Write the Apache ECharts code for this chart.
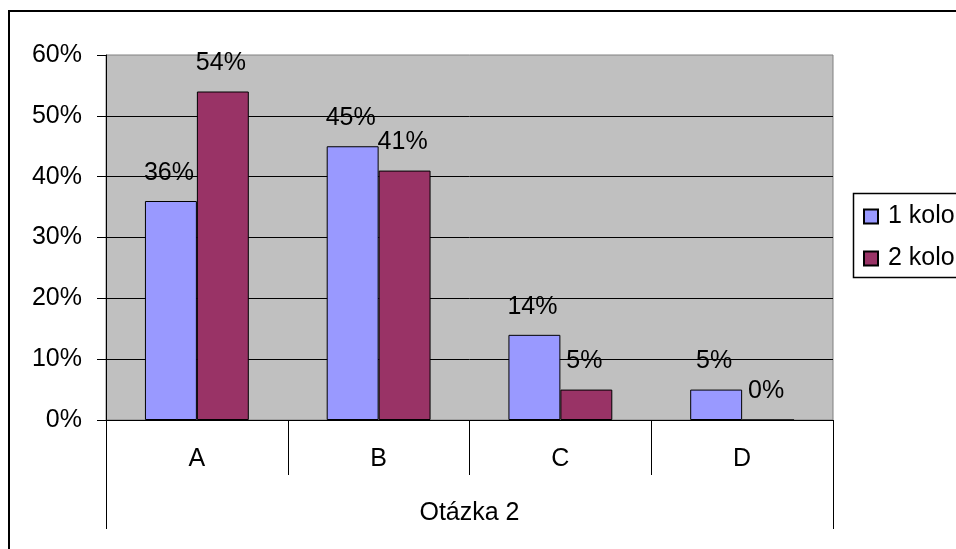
<!DOCTYPE html>
<html>
<head>
<meta charset="utf-8">
<script src="https://cdn.jsdelivr.net/npm/echarts@6/dist/echarts.min.js"></script>
<style>
  html, body { margin: 0; padding: 0; background: #fff; }
  #chart { width: 956px; height: 549px; }
</style>
</head>
<body>
<div id="chart"></div>
<script>
// Answers to question 2, by category, for both rounds (percent)
const categories = ['A', 'B', 'C', 'D'];
const groupLabel = ['Otázka 2'];
const round1 = [36, 45, 14, 5];
const round2 = [54, 41, 5, 0];
const seriesNames = ['1 kolo', '2 kolo'];
const yTicks = { min: 0, max: 60, step: 10 };

const FONT = '"Liberation Sans", Arial, sans-serif';
const FS = 25;

const chart = echarts.init(document.getElementById('chart'), null, { renderer: 'canvas' });

const barLabel = {
  show: true,
  position: 'top',
  distance: 16,
  offset: [-2, 0],
  formatter: '{c}%',
  color: '#000',
  fontFamily: FONT,
  fontSize: FS,
  lineHeight: 24
};

chart.setOption({
  animation: false,
  backgroundColor: '#fff',
  textStyle: { fontFamily: FONT, color: '#000' },
  grid: {
    left: 106, top: 55, right: 123, bottom: 129,
    show: true,
    backgroundColor: '#C0C0C0',
    borderColor: '#808080',
    borderWidth: 1
  },
  legend: {
    orient: 'vertical',
    left: 863,
    top: 204,
    padding: 0,
    itemGap: 17,
    itemWidth: 14,
    itemHeight: 14,
    icon: 'rect',
    data: seriesNames,
    textStyle: { fontFamily: FONT, fontSize: FS, lineHeight: 24, color: '#000', padding: [0, 0, 0, 5] }
  },
  xAxis: [
    {
      type: 'category',
      data: categories,
      position: 'bottom',
      boundaryGap: true,
      axisLine: { show: true, lineStyle: { color: '#000', width: 1 } },
      axisTick: { show: true, interval: 0, length: 55, lineStyle: { color: '#000', width: 1 } },
      axisLabel: { interval: 0, margin: 27, fontFamily: FONT, fontSize: FS, lineHeight: 24, color: '#000' },
      splitLine: { show: false }
    },
    {
      type: 'category',
      data: groupLabel,
      position: 'bottom',
      boundaryGap: true,
      axisLine: { show: false },
      axisTick: { show: true, interval: 0, length: 109, lineStyle: { color: '#000', width: 1 } },
      axisLabel: { interval: 0, margin: 81, fontFamily: FONT, fontSize: FS, lineHeight: 24, color: '#000' },
      splitLine: { show: false }
    }
  ],
  yAxis: {
    type: 'value',
    min: yTicks.min,
    max: yTicks.max,
    interval: yTicks.step,
    axisLine: { show: true, lineStyle: { color: '#000', width: 1 } },
    axisTick: { show: true, length: 9, lineStyle: { color: '#000', width: 1 } },
    axisLabel: { formatter: '{value}%', margin: 24, fontFamily: FONT, fontSize: FS, color: '#000' },
    splitLine: { show: true, showMaxLine: false, lineStyle: { color: '#000', width: 1 } }
  },
  series: [
    {
      name: seriesNames[0],
      type: 'bar',
      data: round1,
      barGap: '0%',
      barCategoryGap: '42.857%',
      itemStyle: { color: '#9999FF', borderColor: '#000', borderWidth: 1 },
      label: barLabel
    },
    {
      name: seriesNames[1],
      type: 'bar',
      data: round2,
      barGap: '0%',
      barCategoryGap: '42.857%',
      itemStyle: { color: '#993366', borderColor: '#000', borderWidth: 1 },
      label: barLabel
    }
  ],
  graphic: [
    {
      type: 'rect',
      z: -1,
      silent: true,
      shape: { x: 9, y: 11, width: 1000, height: 600 },
      style: { fill: 'none', stroke: '#000', lineWidth: 2 }
    },
    {
      type: 'rect',
      silent: true,
      shape: { x: 853.5, y: 193.5, width: 200, height: 84 },
      style: { fill: 'none', stroke: '#000', lineWidth: 1.5 }
    }
  ]
});
</script>
</body>
</html>
